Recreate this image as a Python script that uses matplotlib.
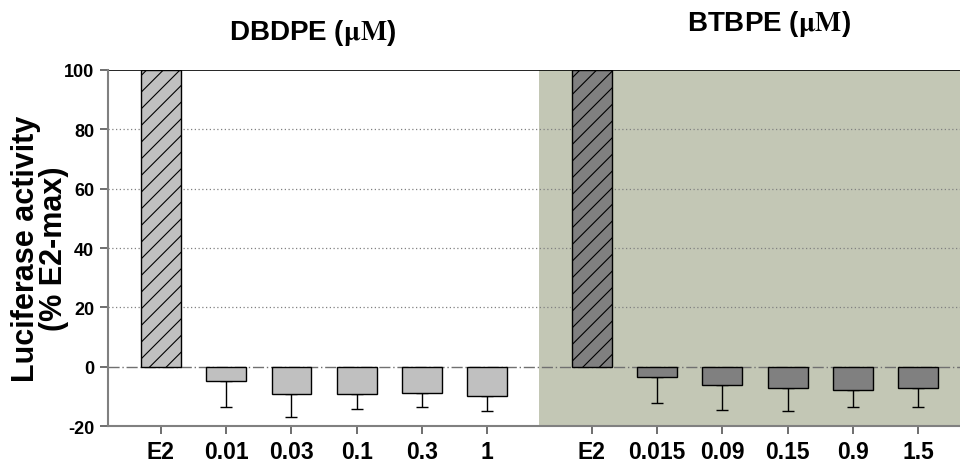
import numpy as np
import matplotlib
matplotlib.use("Agg")
import matplotlib.pyplot as plt

plt.rcParams["font.family"] = ["Liberation Sans", "DejaVu Sans"]
plt.rcParams["font.weight"] = "bold"
plt.rcParams["mathtext.fontset"] = "stix"
plt.rcParams["hatch.linewidth"] = 0.8

# Datos (% de E2-max)
dbdpe_labels = ["E2", "0.01", "0.03", "0.1", "0.3", "1"]
dbdpe_values = [100, -4.8, -9.2, -9.2, -9.0, -10.0]
dbdpe_err = [0, 8.9, 7.6, 5.2, 4.7, 4.8]

btbpe_labels = ["E2", "0.015", "0.09", "0.15", "0.9", "1.5"]
btbpe_values = [100, -3.5, -6.2, -7.2, -8.0, -7.1]
btbpe_err = [0, 8.8, 8.4, 7.7, 5.5, 6.6]

yticks = [-20, 0, 20, 40, 60, 80, 100]

# Posiciones de las barras
x1 = np.arange(len(dbdpe_labels))
x2 = np.arange(len(btbpe_labels)) + 6.6
ancho = 0.61

fig = plt.figure(figsize=(9.6, 4.64), dpi=100)
ax = fig.add_axes([0.1125, 0.0797, 0.8875, 0.7673])

# Fondo verde para BTBPE
ax.axvspan(5.79, 12.5, color="#c3c7b5", zorder=0, lw=0)

# Rejilla punteada
for y in [20, 40, 60, 80]:
    ax.axhline(y, color="#808080", ls=(0, (1, 2)), lw=0.9, zorder=1)
ax.axhline(0, color="#707070", ls=(0, (8, 2, 1, 2)), lw=1.0, zorder=1)
ax.axhline(100, color="black", lw=1.2, zorder=1)

colores = [("#c0c0c0", x1, dbdpe_values, dbdpe_err),
           ("#808080", x2, btbpe_values, btbpe_err)]
for color, xs, vals, errs in colores:
    bars = ax.bar(xs, vals, width=ancho, color=color, edgecolor="black",
                  linewidth=1.0, zorder=3)
    bars[0].set_hatch("//")
    neg = np.array(vals) < 0
    ax.errorbar(xs[neg], np.array(vals)[neg],
                yerr=[np.array(errs)[neg], np.zeros(neg.sum())],
                fmt="none", ecolor="black", elinewidth=1.0, capsize=4.3,
                capthick=1.0, zorder=2)

ax.set_xlim(-0.81, 12.24)
ax.set_ylim(-20, 100)
ax.set_yticks(yticks)
ax.set_yticklabels([str(t) for t in yticks], fontsize=13, fontweight="bold")
ax.set_xticks(np.concatenate([x1, x2]))
ax.set_xticklabels(dbdpe_labels + btbpe_labels, fontsize=16.5, fontweight="bold")

for s in ["top", "right"]:
    ax.spines[s].set_visible(False)
for s in ["left", "bottom"]:
    ax.spines[s].set_color("#808080")
    ax.spines[s].set_linewidth(1.5)
ax.tick_params(axis="both", length=6, width=1.2, pad=4, color="#555555")

ax.set_ylabel("Luciferase activity\n(% E2-max)", fontsize=22,
              fontweight="bold", linespacing=0.9)
ax.yaxis.set_label_coords(-0.046, 0.5)

fig.text(0.326, 0.929, r"DBDPE ($\mathrm{\mu M}$)", fontsize=20,
         fontweight="bold", ha="center", va="center")
fig.text(0.801, 0.948, r"BTBPE ($\mathrm{\mu M}$)", fontsize=20,
         fontweight="bold", ha="center", va="center")

fig.savefig("out.png", dpi=100)
